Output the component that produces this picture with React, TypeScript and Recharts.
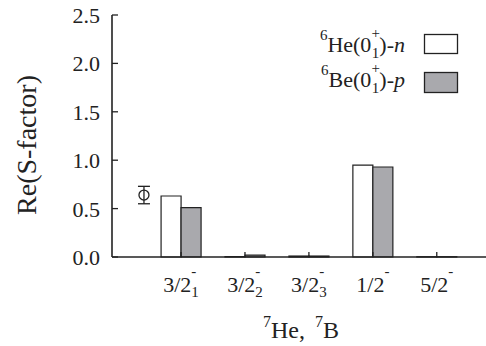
import { ComposedChart, Bar, Scatter, ErrorBar, XAxis, YAxis } from 'recharts';

// 7He / 7B states (x = category slot), bars for 6He-n and 6Be-p
const stateX = [1, 2, 3, 4, 5];
const stateMain = ['3/2', '3/2', '3/2', '1/2', '5/2'];
const stateSup = ['-', '-', '-', '-', '-'];
const stateSub = ['1', '2', '3', '', ''];
const heN = [0.63, 0.004, 0.01, 0.95, 0.003];
const beP = [0.51, 0.02, 0.01, 0.93, 0.003];

// experimental point
const expX = [0.42];
const expY = [0.64];
const expErr = [0.09];

const yTicks = [0, 0.5, 1, 1.5, 2, 2.5];
const xDomain = [-0.08, 5.77];

const rows = stateX.map((x, i) => ({ x, he: heN[i], be: beP[i] }));
const expRows = expX.map((x, i) => ({ x, y: expY[i], err: expErr[i] }));

const INK = '#222';
const GRAY = '#a9a9ad';
const FONT = '"Times New Roman", "Liberation Serif", serif';

const BottomTick = ({ x, y, payload }: any) => {
  const i = stateX.indexOf(payload.value);
  return (
    <g>
      <line x1={x} x2={x} y1={y} y2={y - 5} stroke={INK} strokeWidth={1.3} />
      <text x={x} y={y + 35} textAnchor="middle" fontSize={22} fill={INK} fontFamily={FONT}>
        <tspan>{stateMain[i]}</tspan>
        <tspan fontSize={15} dy={-16}>{stateSup[i]}</tspan>
        {stateSub[i] && (
          <tspan fontSize={15} dx={-5} dy={21}>{stateSub[i]}</tspan>
        )}
      </text>
    </g>
  );
};

const TopTick = ({ x, y }: any) => (
  <line x1={x} x2={x} y1={y} y2={y + 5} stroke={INK} strokeWidth={1.3} />
);

const LeftTick = ({ x, y, payload }: any) => (
  <g>
    <line x1={x} x2={x + 6} y1={y} y2={y} stroke={INK} strokeWidth={1.3} />
    <text x={x - 12} y={y + 8} textAnchor="end" fontSize={22} fill={INK} fontFamily={FONT}>
      {Number(payload.value).toFixed(1)}
    </text>
  </g>
);

const LegendBox = () => (
  <svg width={180} height={70} style={{ display: 'block', overflow: 'visible' }}>
    <text x={120} y={24} textAnchor="end" fontSize={22} fill={INK} fontFamily={FONT}>
      <tspan fontSize={15} dy={-12}>6</tspan>
      <tspan dy={12}>He(0</tspan>
      <tspan fontSize={15} dy={-14}>+</tspan>
      <tspan fontSize={15} dx={-8} dy={20}>1</tspan>
      <tspan dy={-6}>)-</tspan>
      <tspan fontStyle="italic">n</tspan>
    </text>
    <rect x={139.5} y={6.5} width={33} height={19} fill="#fff" stroke={INK} strokeWidth={1.3} />
    <text x={120} y={59} textAnchor="end" fontSize={22} fill={INK} fontFamily={FONT}>
      <tspan fontSize={15} dy={-12}>6</tspan>
      <tspan dy={12}>Be(0</tspan>
      <tspan fontSize={15} dy={-14}>+</tspan>
      <tspan fontSize={15} dx={-8} dy={20}>1</tspan>
      <tspan dy={-6}>)-</tspan>
      <tspan fontStyle="italic">p</tspan>
    </text>
    <rect x={139.5} y={44.5} width={33} height={20} fill={GRAY} stroke={INK} strokeWidth={1.3} />
  </svg>
);

const OpenCircle = ({ cx, cy }: any) => (
  <circle cx={cx} cy={cy} r={5} fill="none" stroke={INK} strokeWidth={1.3} />
);

export default function App() {
  return (
    <div style={{ position: 'absolute', left: 0, top: 0, width: 486, height: 346, background: '#fff' }}>
      <ComposedChart
        width={486}
        height={346}
        data={rows}
        margin={{ top: 15, right: 0, bottom: 0, left: 0 }}
        barGap={0}
      >
        <XAxis
          xAxisId="b"
          type="number"
          dataKey="x"
          domain={xDomain}
          ticks={stateX}
          allowDataOverflow
          height={89}
          tickSize={0}
          tickMargin={0}
          tickLine={false}
          tick={<BottomTick />}
          axisLine={{ stroke: INK, strokeWidth: 1.6 }}
          label={({ viewBox }: any) => (
            <text
              x={viewBox.x + viewBox.width / 2 + 2}
              y={viewBox.y + 81}
              textAnchor="middle"
              fontSize={24}
              fill={INK}
              fontFamily={FONT}
            >
              <tspan fontSize={16} dy={-11}>7</tspan>
              <tspan dy={11}>He,</tspan>
              <tspan fontSize={16} dx={10} dy={-11}>7</tspan>
              <tspan dy={11}>B</tspan>
            </text>
          )}
        />
        <XAxis
          xAxisId="t"
          orientation="top"
          type="number"
          dataKey="x"
          domain={xDomain}
          ticks={stateX}
          allowDataOverflow
          height={0}
          tickSize={0}
          tickMargin={0}
          tickLine={false}
          tick={<TopTick />}
          axisLine={{ stroke: INK, strokeWidth: 1.6 }}
        />
        <YAxis
          type="number"
          domain={[0, 2.5]}
          ticks={yTicks}
          width={112}
          tickSize={0}
          tickMargin={0}
          tickLine={false}
          tick={<LeftTick />}
          axisLine={{ stroke: INK, strokeWidth: 1.6 }}
          label={({ viewBox }: any) => {
            const cx = 26;
            const cy = viewBox.y + viewBox.height / 2 + 9;
            return (
              <text
                x={cx}
                y={cy}
                transform={`rotate(-90 ${cx} ${cy})`}
                textAnchor="middle"
                dominantBaseline="central"
                fontSize={28}
                fill={INK}
                fontFamily={FONT}
              >
                Re(S-factor)
              </text>
            );
          }}
        />
        <Bar xAxisId="b" dataKey="he" name="6He(0+1)-n" barSize={20} fill="#fff" stroke={INK} strokeWidth={1.2} isAnimationActive={false} />
        <Bar xAxisId="b" dataKey="be" name="6Be(0+1)-p" barSize={20} fill={GRAY} stroke={INK} strokeWidth={1.2} isAnimationActive={false} />
        <Scatter xAxisId="t" data={expRows} dataKey="y" shape={<OpenCircle />} isAnimationActive={false}>
          <ErrorBar dataKey="err" direction="y" width={6} stroke={INK} strokeWidth={1.3} />
        </Scatter>
      </ComposedChart>
      <div style={{ position: 'absolute', left: 285, top: 28 }}>
        <LegendBox />
      </div>
    </div>
  );
}
